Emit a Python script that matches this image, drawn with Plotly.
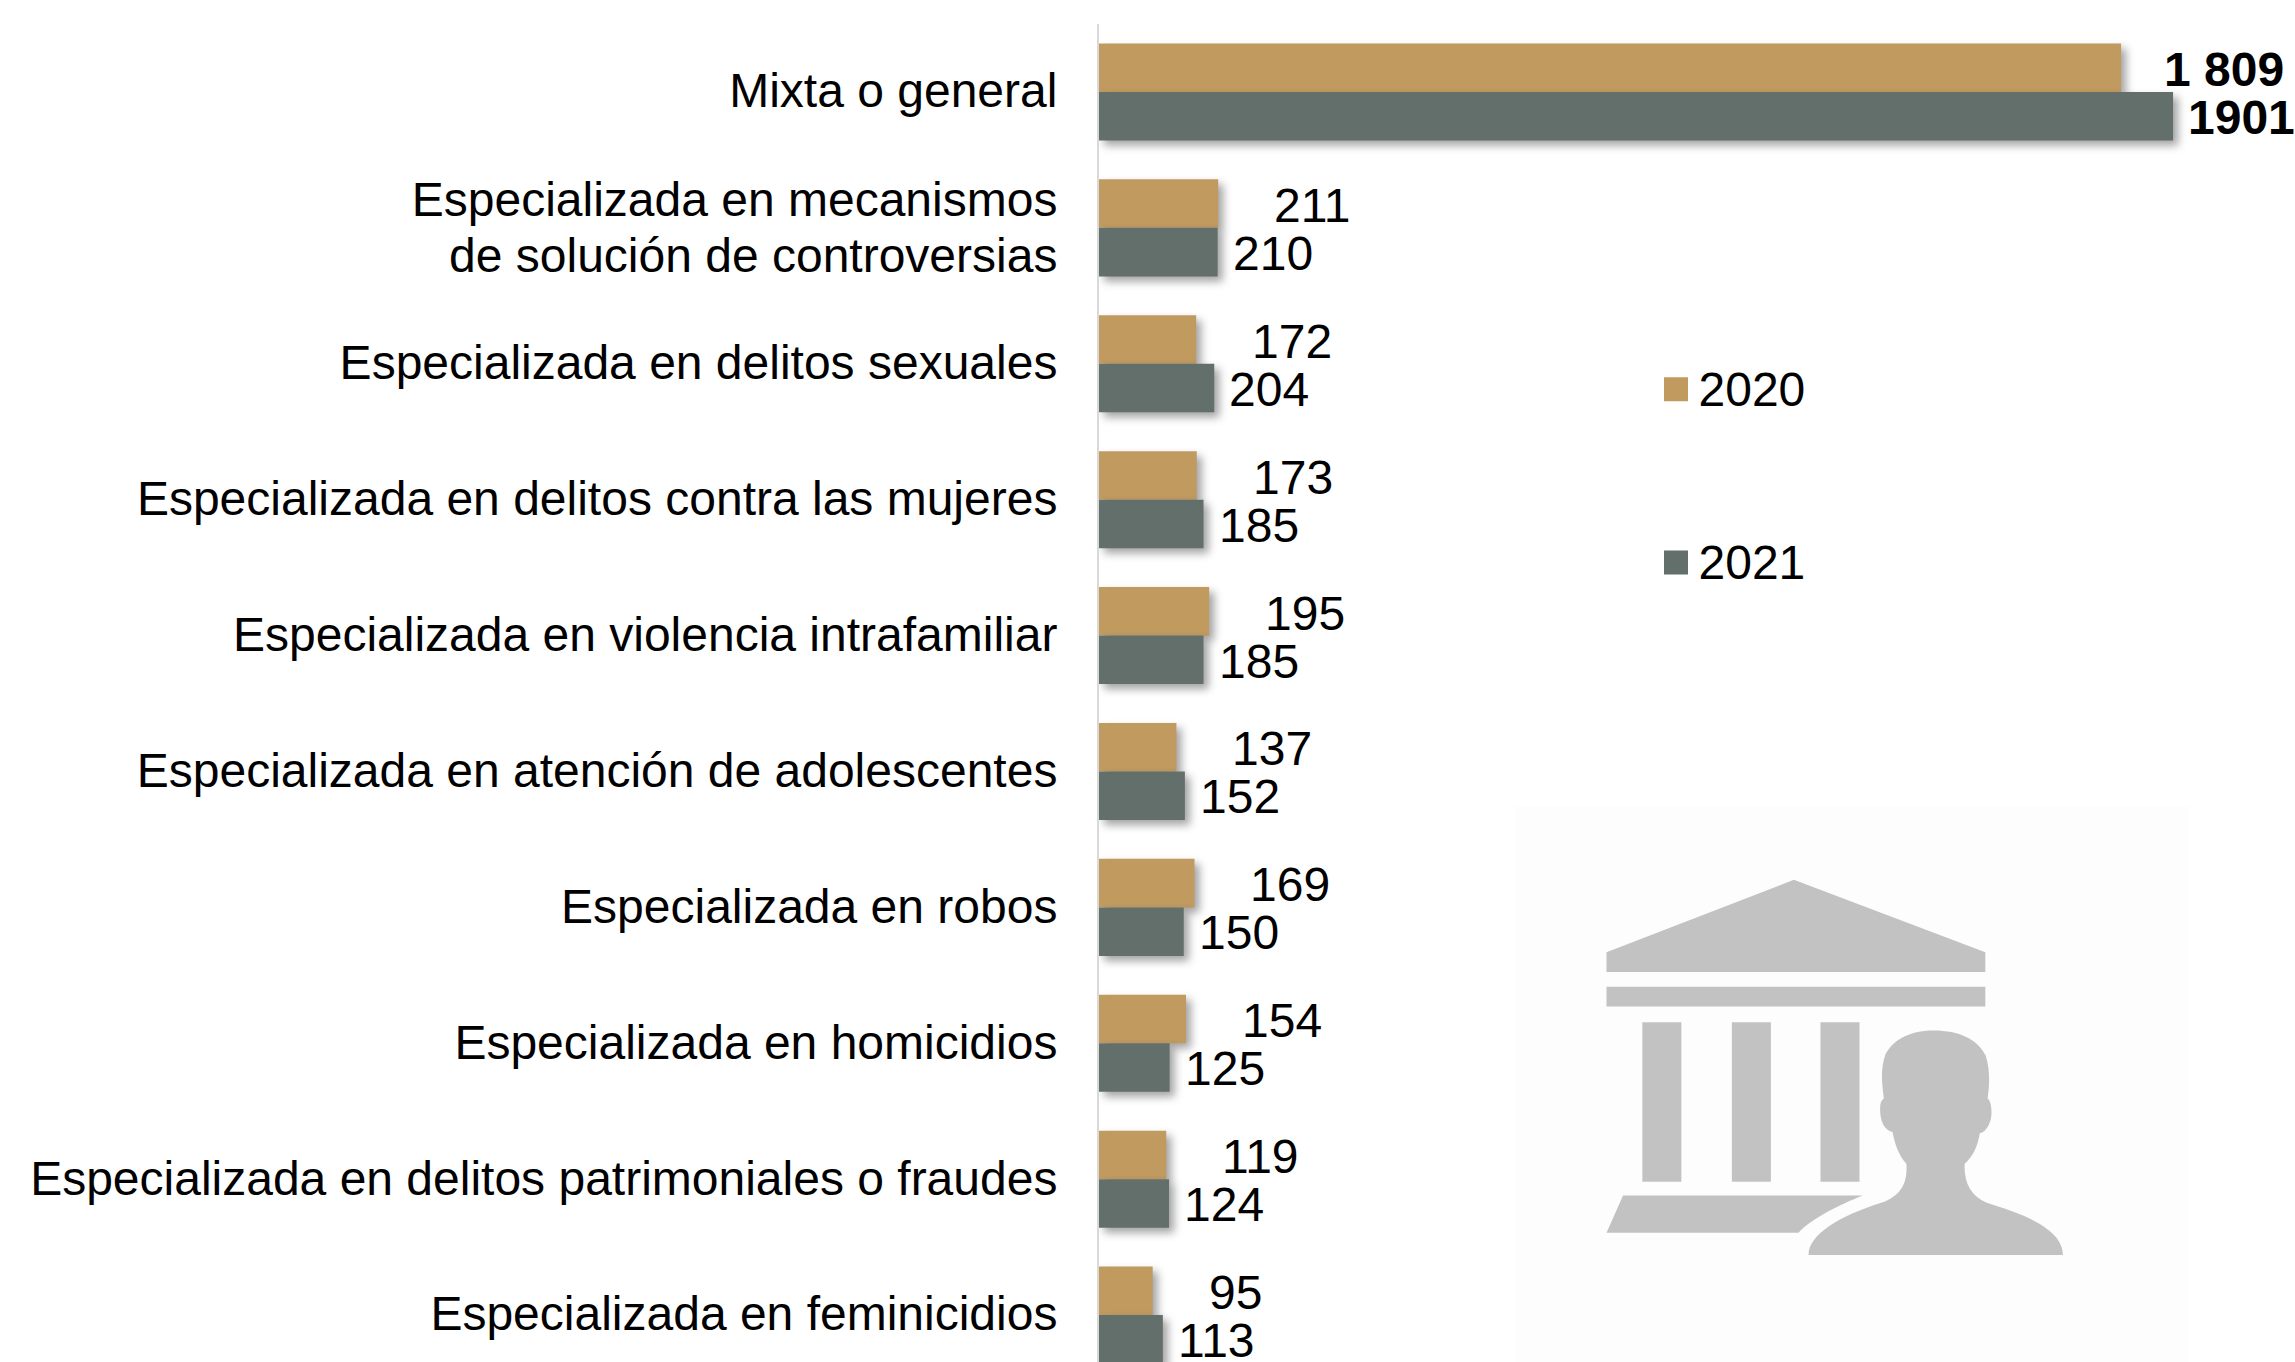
import plotly.graph_objects as go

categories = [
    "Mixta o general",
    "Especializada en mecanismos<br>de solución de controversias",
    "Especializada en delitos sexuales",
    "Especializada en delitos contra las mujeres",
    "Especializada en violencia intrafamiliar",
    "Especializada en atención de adolescentes",
    "Especializada en robos",
    "Especializada en homicidios",
    "Especializada en delitos patrimoniales o fraudes",
    "Especializada en feminicidios",
]
values_2020 = [1809, 211, 172, 173, 195, 137, 169, 154, 119, 95]
values_2021 = [1901, 210, 204, 185, 185, 152, 150, 125, 124, 113]
labels_2020 = ["<b>1 809</b>", "211", "172", "173", "195", "137", "169", "154", "119", "95"]
labels_2021 = ["<b>1901</b>", "210", "204", "185", "185", "152", "150", "125", "124", "113"]

GOLD = "#C09A5F"
SLATE = "#626F6A"
FONT = "Liberation Sans"
FS = 48
W, H = 2295, 1362
L, T = 1099, 24
PW, PH = W - L, H - T

fig = go.Figure()
fig.add_bar(y=categories, x=values_2020, name="2020", orientation="h",
            marker=dict(color=GOLD, line=dict(width=0)), legendgroup="a")
fig.add_bar(y=categories, x=values_2021, name="2021", orientation="h",
            marker=dict(color=SLATE, line=dict(width=0)), legendgroup="b")

# data labels
for i, c in enumerate(categories):
    fig.add_annotation(x=values_2020[i], y=c, text=labels_2020[i], xref="x", yref="y",
                       xanchor="left", showarrow=False, xshift=41 if i == 0 else 54, yshift=22.5,
                       font=dict(family=FONT, size=FS, color="black"))
    fig.add_annotation(x=values_2021[i], y=c, text=labels_2021[i], xref="x", yref="y",
                       xanchor="left", showarrow=False, xshift=13 if i == 0 else 13, yshift=-25.5,
                       font=dict(family=FONT, size=FS, color="black"))


# watermark icon, traced in the crop of the reference
def px(x):
    return (1500 + x / 2.178 - L) / PW


def py(y):
    return 1 - (780 + y / 2.684 - T) / PH


def path(cmds):
    out = []
    for c in cmds:
        if isinstance(c, str):
            out.append(c)
        else:
            out.append(f"{px(c[0]):.5f},{py(c[1]):.5f}")
    return " ".join(out)


def poly(pts):
    return path(["M", pts[0]] + [x for p in pts[1:] for x in ("L", p)] + ["Z"])


ICON = "#C2C2C2"
shape_paths = [
    poly([(232, 462), (640, 268), (1057, 462), (1057, 515), (232, 515)]),
    poly([(232, 555), (1057, 555), (1057, 608), (232, 608)]),
    poly([(310, 650), (395, 650), (395, 1078), (310, 1078)]),
    poly([(505, 650), (590, 650), (590, 1078), (505, 1078)]),
    poly([(698, 650), (783, 650), (783, 1078), (698, 1078)]),
    path(["M", (268, 1115), "L", (790, 1115), "C", (740, 1140), (680, 1175), (650, 1215),
          "L", (232, 1215), "Z"]),
    path(["M", (672, 1275), "C", (672, 1220), (740, 1170), (830, 1135),
          "C", (875, 1115), (888, 1080), (885, 1030),
          "C", (870, 1010), (860, 980), (855, 945),
          "C", (835, 940), (827, 910), (828, 880),
          "C", (828, 865), (832, 858), (836, 855),
          "C", (830, 800), (830, 770), (840, 735),
          "C", (860, 690), (900, 672), (945, 672),
          "C", (1000, 672), (1040, 695), (1058, 740),
          "C", (1068, 780), (1066, 820), (1062, 855),
          "C", (1072, 865), (1072, 900), (1068, 915),
          "C", (1062, 935), (1055, 945), (1045, 948),
          "C", (1040, 985), (1030, 1010), (1012, 1030),
          "C", (1010, 1080), (1025, 1115), (1060, 1135),
          "C", (1140, 1165), (1226, 1205), (1226, 1275), "Z"]),
]
fig.add_shape(type="rect", xref="paper", yref="paper", layer="below",
              x0=px(33), x1=px(1500), y0=0, y1=py(70),
              fillcolor="#FDFDFD", line=dict(width=0))
for d in shape_paths:
    fig.add_shape(type="path", path=d, xref="paper", yref="paper", layer="below",
                  fillcolor=ICON, line=dict(width=0))

fig.update_layout(
    width=W, height=H,
    margin=dict(l=L, r=0, t=T, b=0, pad=0),
    paper_bgcolor="white", plot_bgcolor="rgba(0,0,0,0)",
    barmode="group", bargap=0.286, bargroupgap=0,
    font=dict(family=FONT, size=FS, color="black"),
    showlegend=True,
    legend=dict(x=(1653.5 - L) / PW, y=1 - (349.5 - T) / PH, xanchor="left", yanchor="top",
                tracegroupgap=108, bgcolor="rgba(0,0,0,0)", itemclick=False, itemwidth=35,
                font=dict(family=FONT, size=FS)),
    xaxis=dict(visible=False, range=[0, PW / 0.565], showgrid=False, zeroline=False),
    yaxis=dict(type="category", categoryorder="array", categoryarray=categories,
               range=[9.345, -0.5], showgrid=False, zeroline=False, showline=True,
               linecolor="#D9D9D9", linewidth=2, ticks="outside", ticklen=30,
               tickcolor="rgba(0,0,0,0)", tickfont=dict(family=FONT, size=FS, color="black")),
)

post = """
document.documentElement.style.margin='0';
document.body.style.margin='0';
document.body.style.overflow='hidden';
document.querySelectorAll('.barlayer .trace').forEach(function(g){
  g.style.filter='drop-shadow(5px 5px 4px rgba(0,0,0,0.36))';
});
document.querySelectorAll('.legendpoints path').forEach(function(p){
  p.setAttribute('d','M12,14H-12V-10H12Z');
});
document.querySelectorAll('.ytick text').forEach(function(t){
  var y=parseFloat(t.getAttribute('y'));
  var ls=t.querySelectorAll('tspan.line');
  if(ls.length==2){
    var y0=parseFloat(ls[0].getAttribute('y'))+3;
    ls[0].setAttribute('y',y0);
    ls[1].setAttribute('y',y0);
    ls[1].setAttribute('dy','55.6px');
  } else {
    t.setAttribute('y',y-1.5);
  }
});
"""
fig.write_html("out.html", post_script=post, config={"displayModeBar": False})
